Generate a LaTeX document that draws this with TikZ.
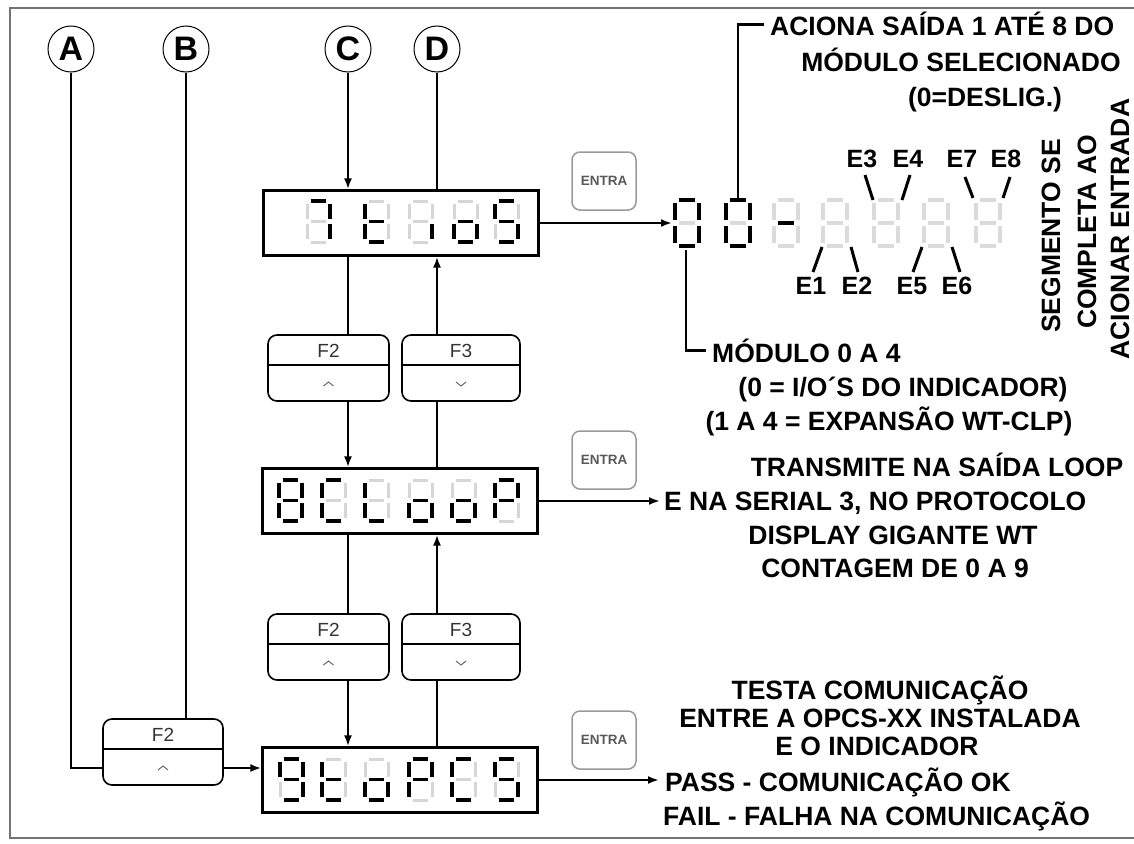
\documentclass[tikz,border=0pt]{standalone}
\usepackage{fontspec}
\setmainfont{Liberation Sans}
\usetikzlibrary{arrows.meta,calc}

\tikzset{
  segon/.style={line width=3.6pt, black},
  segoff/.style={line width=3pt, black!16},
  bigon/.style={line width=4.2pt, black},
  bigoff/.style={line width=3.6pt, black!14},
  conn/.style={line width=2.4pt, black},
  arr/.style={conn, -{Latex[length=11pt,width=8pt]}},
  dispbox/.style={draw, line width=2.2pt, minimum width=275pt, minimum height=65pt, inner sep=0pt},
  keybox/.style={draw, line width=1.6pt, rounded corners=9pt, fill=white, inner sep=0pt, minimum height=66pt},
  keytxt/.style={font=\fontsize{19}{19}\selectfont, text=black!80, inner sep=0pt},
  entrabox/.style={draw=black!40, line width=1.5pt, rounded corners=8pt, minimum width=64pt, minimum height=58pt, inner sep=0pt,
     font=\fontsize{13.5}{13.5}\selectfont\bfseries, text=black!65},
  lbl/.style={font=\fontsize{26.5}{26.5}\selectfont\bfseries, inner sep=0pt},
  elbl/.style={font=\fontsize{25}{25}\selectfont\bfseries, inner sep=0pt},
  circ/.style={draw, circle, line width=1pt, minimum size=46pt, inner sep=0pt, font=\fontsize{34}{34}\selectfont\bfseries},
}

% seven segment digit: x (left), y (top), w, h, on-style, off-style, lit segments
\newcommand\sevdig[7]{%
  \begin{scope}[shift={(#1,#2)}, xscale=#3, yscale=#4]
    \coordinate (sga1) at (0.16,0);    \coordinate (sga2) at (0.84,0);
    \coordinate (sgb1) at (1,0.07);    \coordinate (sgb2) at (1,0.44);
    \coordinate (sgc1) at (1,0.56);    \coordinate (sgc2) at (1,0.93);
    \coordinate (sgd1) at (0.16,1);    \coordinate (sgd2) at (0.84,1);
    \coordinate (sge1) at (0,0.56);    \coordinate (sge2) at (0,0.93);
    \coordinate (sgf1) at (0,0.07);    \coordinate (sgf2) at (0,0.44);
    \coordinate (sgg1) at (0.16,0.5);  \coordinate (sgg2) at (0.84,0.5);
  \end{scope}
  \foreach \s in {a,b,c,d,e,f,g} {\draw[#6] (sg\s1) -- (sg\s2);}
  \foreach \s in {#7} {\ifx\s\empty\else\draw[#5] (sg\s1) -- (sg\s2);\fi}
}
\newcommand\dd[3]{\sevdig{#1}{#2}{23}{41}{segon}{segoff}{#3}}
\newcommand\bd[2]{\sevdig{#1}{200}{24}{46}{bigon}{bigoff}{#2}}

\begin{document}
\begin{tikzpicture}[x=1pt, y=-1pt]
\useasboundingbox (0,0) rectangle (1134,843);
\draw[black!55, line width=1.5pt] (1140,8) -- (10,8) -- (10,838) -- (1140,838);

% circles
\node[circ] (cA) at (71,49) {A};
\node[circ] (cB) at (186,49) {B};
\node[circ] (cC) at (348,49) {C};
\node[circ] (cD) at (437,49) {D};

% displays
\node[dispbox] (d1) at (401,223) {};
\node[dispbox] (d2) at (400,501) {};
\node[dispbox] (d3) at (400,780) {};

% connectors between displays
\draw[arr] (cC) -- (cC |- d1.north);
\draw[conn] (cD) -- (cD |- d1.north);
\draw[arr] (cC |- d1.south) -- (cC |- d2.north);
\draw[arr] (cD |- d2.north) -- (cD |- d1.south);
\draw[arr] (cC |- d2.south) -- (cC |- d3.north);
\draw[arr] (cD |- d3.north) -- (cD |- d2.south);

% A and B
\coordinate (aturn) at (71,768);
\draw[arr] (cA) -- (aturn) -- (aturn -| d3.west);

% keys
\newcommand\fkey[5]{% name, x, y, width, label
  \node[keybox, minimum width=#4] (#1) at (#2,#3) {};
  \draw[line width=2pt] ([yshift=3pt]#1.west) -- ([yshift=3pt]#1.east);
  \node[keytxt] at ([yshift=17pt]#1.center) {#5};
}
\fkey{kA}{328.5}{368}{121pt}{F2}
\fkey{kB}{461}{368}{118pt}{F3}
\fkey{kC}{328.5}{647}{121pt}{F2}
\fkey{kD}{461}{647}{118pt}{F3}
\fkey{kE}{163}{752}{120pt}{F2}
\draw[conn] (cB) -- (cB |- kE.north);

% chevrons
\newcommand\chevup[1]{\draw[black!60, line width=1pt] ([xshift=-5pt,yshift=-18pt]#1.center) -- ([yshift=-14pt]#1.center) -- ([xshift=5pt,yshift=-18pt]#1.center);}
\newcommand\chevdn[1]{\draw[black!60, line width=1pt] ([xshift=-5pt,yshift=-14pt]#1.center) -- ([yshift=-18pt]#1.center) -- ([xshift=5pt,yshift=-14pt]#1.center);}
\chevup{kA}\chevdn{kB}\chevup{kC}\chevdn{kD}\chevup{kE}

% display 1 digits: 7 t i o S
\dd{307}{201}{a,b,c}
\dd{365}{201}{d,e,f,g}
\dd{409}{201}{c}
\dd{454}{201}{c,d,e,g}
\dd{495}{201}{a,c,d,f,g}
% display 2 digits: 8 C L o o P
\dd{279}{480}{a,b,c,d,e,f,g}
\dd{322}{480}{a,d,e,f}
\dd{365}{480}{d,e,f}
\dd{409}{480}{c,d,e,g}
\dd{452}{480}{c,d,e,g}
\dd{495}{480}{a,b,e,f,g}
% display 3 digits: 9 t o P C S
\dd{280}{759}{a,b,c,d,f,g}
\dd{322}{759}{d,e,f,g}
\dd{365}{759}{c,d,e,g}
\dd{409}{759}{a,b,e,f,g}
\dd{452}{759}{a,d,e,f}
\dd{495}{759}{a,c,d,f,g}

% ENTRA buttons
\node[entrabox] (e1) at (604,181) {ENTRA};
\node[entrabox] (e2) at (604,460) {ENTRA};
\node[entrabox] (e3) at (604,740) {ENTRA};

% big digits
\bd{675}{a,b,c,d,e,f}
\bd{726}{a,b,c,d,e,f}
\bd{774}{g}
\bd{823}{}
\bd{874}{}
\bd{924}{}
\bd{976}{}
\coordinate (big0) at (672,223);
\coordinate (big0top) at (686,198);
\coordinate (big1top) at (738,198);
\draw[arr] (d1.east) -- (big0 |- d1.east);

% E labels
\tikzset{etick/.style={line width=3pt}}
\node[elbl] (E1) at (811,286) {E1};
\node[elbl] (E2) at (857,286) {E2};
\node[elbl] (E3) at (862,159) {E3};
\node[elbl] (E4) at (908,159) {E4};
\node[elbl] (E5) at (912,286) {E5};
\node[elbl] (E6) at (957,286) {E6};
\node[elbl] (E7) at (962,159) {E7};
\node[elbl] (E8) at (1006,159) {E8};
\draw[etick] (813,272) -- (822,247);
\draw[etick] (858,272) -- (851,247);
\draw[etick] (865,175) -- (873,200);
\draw[etick] (910,175) -- (902,200);
\draw[etick] (913,272) -- (922,247);
\draw[etick] (960,272) -- (952,247);
\draw[etick] (965,177) -- (973,198);
\draw[etick] (1010,177) -- (1003,198);

% top label
\node[lbl, anchor=base west] (t1) at (770,36) {ACIONA SAÍDA 1 ATÉ 8 DO};
\node[lbl, anchor=base] (t2) at (961,71) {MÓDULO SELECIONADO};
\node[lbl, anchor=base] (t3) at (985,106) {(0=DESLIG.)};
\draw[conn] (big1top) -- (big1top |- t1.west) -- ([xshift=-6pt]t1.west);

% modulo label
\node[lbl, anchor=base west] (m1) at (712,362) {MÓDULO 0 A 4};
\node[lbl, anchor=base] (m2) at (903,396) {(0 = I/O´S DO INDICADOR)};
\node[lbl, anchor=base] (m3) at (889,430) {(1 A 4 = EXPANSÃO WT-CLP)};
\draw[conn] ([yshift=-52pt]big0top) -- (big0top |- m1.west) -- ([xshift=-6pt]m1.west);

% rotated
\node[lbl, rotate=90] (r1) at (1051,236) {SEGMENTO SE};
\node[lbl, rotate=90] (r2) at (1087,232) {COMPLETA AO};
\node[lbl, rotate=90] (r3) at (1120,229) {ACIONAR ENTRADA};

% loop text
\node[lbl, anchor=base] (l1) at (937,476) {TRANSMITE NA SAÍDA LOOP};
\node[lbl, anchor=base west] (l2) at (664,510) {E NA SERIAL 3, NO PROTOCOLO};
\node[lbl, anchor=base] (l3) at (893,544) {DISPLAY GIGANTE WT};
\node[lbl, anchor=base] (l4) at (895,577) {CONTAGEM DE 0 A 9};
\draw[arr] (d2.east) -- ([xshift=-4pt]l2.west |- d2.east);

% opcs text
\node[lbl, anchor=base] (o1) at (880,699) {TESTA COMUNICAÇÃO};
\node[lbl, anchor=base] (o2) at (880,727) {ENTRE A OPCS-XX INSTALADA};
\node[lbl, anchor=base] (o3) at (877,755) {E O INDICADOR};
\node[lbl, anchor=base west] (o4) at (665,791) {PASS - COMUNICAÇÃO OK};
\node[lbl, anchor=base west] (o5) at (663,825) {FAIL - FALHA NA COMUNICAÇÃO};
\draw[arr] (d3.east) -- ([xshift=-6pt]o4.west |- d3.east);
\end{tikzpicture}
\end{document}
